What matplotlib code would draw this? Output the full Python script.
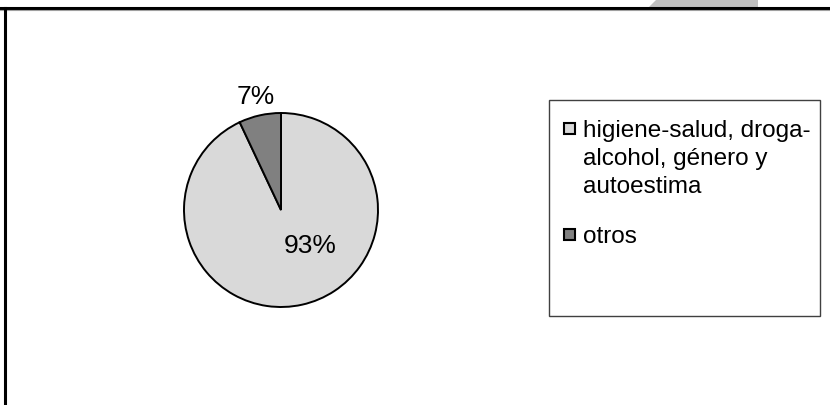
import matplotlib.pyplot as plt
from matplotlib.patches import Rectangle, Polygon
from matplotlib.lines import Line2D

plt.rcParams['font.family'] = ['Liberation Sans', 'DejaVu Sans']

categories = ['higiene-salud, droga-\nalcohol, género y\nautoestima', 'otros']
shares = [93, 7]
colors = ['#d9d9d9', '#808080']

W, H = 830, 405
fig = plt.figure(figsize=(W / 100, H / 100), dpi=100)
fig.patch.set_facecolor('white')


def px(x0, y0, w, h):
    # pixel box (top-left origin) -> figure fraction rect
    return [x0 / W, 1 - (y0 + h) / H, w / W, h / H]


# pie
cx, cy, r = 281, 210, 97
ax = fig.add_axes(px(cx - r, cy - r, 2 * r, 2 * r))
wedges, _, pct = ax.pie(shares, colors=colors, startangle=90, counterclock=False,
                        autopct='%1.0f%%', pctdistance=1.19,
                        wedgeprops=dict(edgecolor='black', linewidth=1.4),
                        textprops=dict(fontsize=19, color='black'))
pct[0].set_position((0.30, -0.37))
ax.set_xlim(-1, 1)
ax.set_ylim(-1, 1)
ax.set_aspect('equal')
ax.axis('off')
for t in pct:
    t.set_clip_on(False)

# legend box, entries drawn by hand so the swatch sits on the first text line
fig.patches.append(Rectangle((549 / W, 1 - 316 / H), 271 / W, 216 / H,
                             transform=fig.transFigure, facecolor='white',
                             edgecolor='#404040', linewidth=1.0, zorder=0))
line_h, entry_gap, base_y = 28, 50, 137
y = base_y
for label, c in zip(categories, colors):
    fig.patches.append(Rectangle((563.5 / W, 1 - (y - 3) / H), 11 / W, 11 / H,
                                 transform=fig.transFigure, facecolor=c,
                                 edgecolor='black', linewidth=1.5))
    lines = label.split('\n')
    for i, line in enumerate(lines):
        fig.text(583 / W, 1 - (y + i * line_h) / H, line, fontsize=17.5,
                 va='baseline', ha='left')
    y += line_h * (len(lines) - 1) + entry_gap

# outer frame
fig.add_artist(Line2D([0, 1], [1 - 8.3 / H] * 2, color='black', linewidth=2.2))
fig.add_artist(Line2D([0, 1], [1 - 10.2 / H] * 2, color='#a0a0a0', linewidth=0.8))
fig.add_artist(Line2D([4.5 / W] * 2, [0, 1 - 8 / H], color='black', linewidth=2.2))
fig.patches.append(Polygon([(649 / W, 1 - 7 / H), (656 / W, 1.0), (758 / W, 1.0),
                            (758 / W, 1 - 7 / H)], closed=True,
                           transform=fig.transFigure, facecolor='#c0c0c0',
                           edgecolor='none'))

fig.savefig('out.png', dpi=100)
